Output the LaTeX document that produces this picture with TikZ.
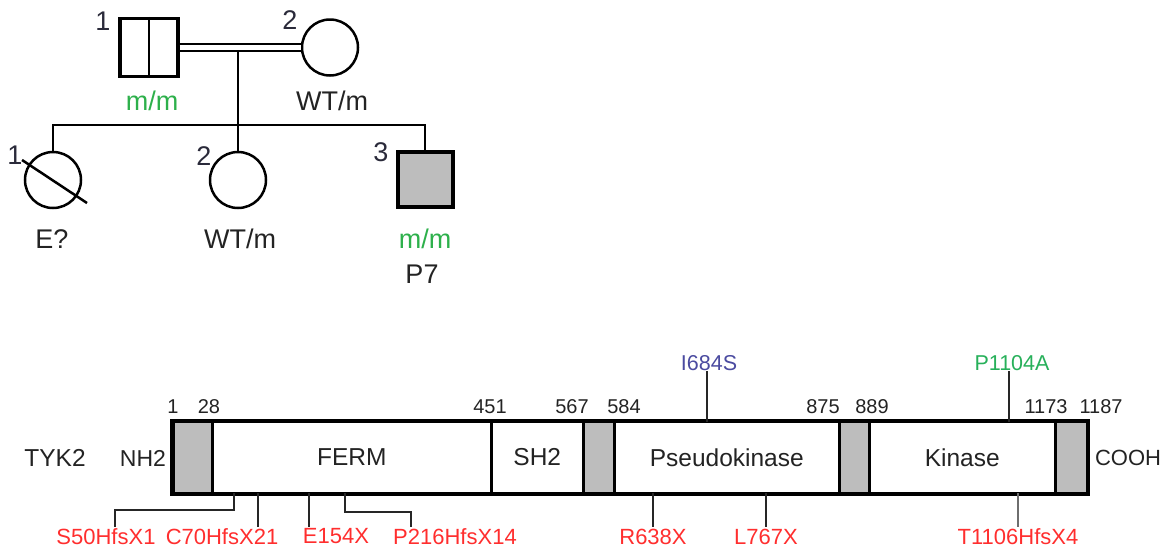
\documentclass[tikz,border=0pt]{standalone}
\usepackage{fontspec}
\setmainfont{Liberation Sans}
\usetikzlibrary{calc}
\definecolor{txt}{HTML}{232323}
\definecolor{numc}{HTML}{2A2A3A}
\definecolor{mgreen}{HTML}{2DB04B}
\definecolor{mred}{HTML}{FF2E2E}
\definecolor{mblue}{HTML}{4B4BA0}
\definecolor{pgreen}{HTML}{27B05A}
\definecolor{dgray}{HTML}{BDBDBD}
\definecolor{lgray}{HTML}{6E6E6E}
\begin{document}
\begin{tikzpicture}[x=1pt,y=-1pt,
  ped/.style={line width=2.5pt, draw=black, line join=miter},
  malebox/.style={draw, line width=3.5pt, minimum size=58pt, inner sep=0pt},
  femcirc/.style={draw, circle, line width=2.5pt, minimum size=56pt, inner sep=0pt},
  pedtxt/.style={font=\fontsize{27}{27}\selectfont, text=txt, inner sep=0pt, anchor=base},
  pednum/.style={font=\fontsize{27}{27}\selectfont, text=numc, inner sep=0pt},
  seg/.style={draw, line width=2.5pt, minimum height=71pt, inner sep=0pt, anchor=west},
  grayseg/.style={seg, fill=dgray},
  domtxt/.style={font=\fontsize{24.5}{24.5}\selectfont, text=txt, inner sep=0pt},
  numtxt/.style={font=\fontsize{20}{20}\selectfont, text=txt, inner sep=0pt},
  mutred/.style={font=\fontsize{22}{22}\selectfont, text=mred, inner sep=0pt},
  mutline/.style={line width=1.6pt, draw=black!85}
]
\useasboundingbox (0,0) rectangle (1167,547);

% ---------------- Pedigree ----------------
\node[malebox] (s1) at (149,47.5) {};
\draw[line width=2.5pt] (s1.north) -- (s1.south);
\node[femcirc] (c2) at (330,47.5) {};
\draw[double=white, double distance=5pt, line width=2pt] (s1) -- (c2);

\node[pednum] (n1) at (103,21) {1};
\node[pednum] (n2) at (290,20) {2};
\node[pedtxt, text=mgreen] (g1) at (152,110) {m/m};
\node[pedtxt] (g2) at (332,110) {WT/m};

\coordinate (mid) at (238,50.5);
\coordinate (sibc) at (238,125);
\coordinate (sibL) at (53,125);
\coordinate (sibR) at (425,125);

\node[femcirc] (k1) at (53,180) {};
\node[femcirc] (k2) at (238,180) {};
\node[malebox, line width=4pt, minimum size=55pt, fill=dgray] (k3) at (425,179) {};

\draw[ped] (mid) -- (sibc);
\draw[ped] (k1.north) -- (sibL) -- (sibR) -- (k3.north);
\draw[ped] (sibc) -- (k2.north);
\draw[line width=2.5pt] ($(k1)+(-31,-20)$) -- ($(k1)+(34,23)$);

\node[pednum] (kn1) at (15,155) {1};
\node[pednum] (kn2) at (204,156) {2};
\node[pednum] (kn3) at (381,152) {3};

\node[pedtxt] (e1) at (52,248) {E?};
\node[pedtxt] (e2) at (240,248) {WT/m};
\node[pedtxt, text=mgreen] (e3) at (425,248) {m/m};
\node[pedtxt] (p7) at (422,283) {P7};

% ---------------- TYK2 protein ----------------
\node[grayseg, minimum width=39pt] (g1s) at (172,457.5) {};
\node[seg, minimum width=279pt] (ferm) at (211,457.5) {};
\node[seg, minimum width=92pt] (sh2) at (490,457.5) {};
\node[grayseg, minimum width=31pt] (g2s) at (582,457.5) {};
\node[seg, minimum width=225pt] (pseudo) at (613,457.5) {};
\node[grayseg, minimum width=30pt] (g3s) at (838,457.5) {};
\node[seg, minimum width=186pt] (kin) at (868,457.5) {};
\node[grayseg, minimum width=32pt] (g4s) at (1054,457.5) {};
\draw[line width=3.5pt] (g1s.north west) rectangle (g4s.south east);

\node[domtxt] (tyk) at (55,458) {TYK2};
\node[domtxt, font=\fontsize{23}{23}\selectfont] (nh2) at (143,458) {NH2};
\node[domtxt] at (ferm.center) {FERM};
\node[domtxt] at (sh2.center) {SH2};
\node[domtxt] at (pseudo.center) {Pseudokinase};
\node[domtxt] at (kin.center) {Kinase};
\node[domtxt, font=\fontsize{22}{22}\selectfont] (cooh) at (1128,458) {COOH};

\node[numtxt] at (173,407) {1};
\node[numtxt] at (209,407) {28};
\node[numtxt] at (490,407) {451};
\node[numtxt] at (572,407) {567};
\node[numtxt] at (624,407) {584};
\node[numtxt] at (823,407) {875};
\node[numtxt] at (872,407) {889};
\node[numtxt] at (1046,407) {1173};
\node[numtxt] at (1101,407) {1187};

% top mutations
\node[font=\fontsize{21.5}{21.5}\selectfont, text=mblue, inner sep=0pt] (i684) at (709,363.5) {I684S};
\node[font=\fontsize{21.5}{21.5}\selectfont, text=pgreen, inner sep=0pt] (p1104) at (1012,363) {P1104A};
\coordinate (ti684) at (707,422);
\coordinate (tp1104) at (1009,422);
\draw[mutline] (ti684) -- (ti684 |- i684.south);
\draw[mutline] (tp1104) -- (tp1104 |- p1104.south);

% bottom mutations
\node[mutred] (s50) at (106,536.5) {S50HfsX1};
\node[mutred] (c70) at (222,536.5) {C70HfsX21};
\node[mutred] (e154) at (336,536.5) {E154X};
\node[mutred] (p216) at (455,536.5) {P216HfsX14};
\node[mutred] (r638) at (653,536.5) {R638X};
\node[mutred] (l767) at (766,536.5) {L767X};
\node[mutred] (t1106) at (1018,536.5) {T1106HfsX4};

\coordinate (bs50) at (234,493);
\coordinate (ks50) at (115,510);
\coordinate (bc70) at (258,493);
\coordinate (be154) at (309,493);
\coordinate (bp216) at (345,493);
\coordinate (kp216) at (411,512);
\coordinate (br638) at (653,493);
\coordinate (bl767) at (766,493);
\coordinate (bt1106) at (1018,493);

\draw[mutline, shorten >=1.5pt] (bs50) |- (ks50) -- (ks50 |- s50.north);
\draw[mutline, shorten >=1.5pt] (bc70) -- (bc70 |- c70.north);
\draw[mutline, shorten >=1.5pt] (be154) -- (be154 |- e154.north);
\draw[mutline, shorten >=1.5pt] (bp216) |- (kp216) -- (kp216 |- p216.north);
\draw[mutline, shorten >=1.5pt] (br638) -- (r638.north);
\draw[mutline, shorten >=1.5pt] (bl767) -- (l767.north);
\draw[mutline, draw=lgray, shorten >=1.5pt] (bt1106) -- (t1106.north);
\end{tikzpicture}
\end{document}
